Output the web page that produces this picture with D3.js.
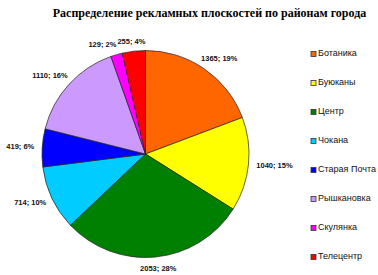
<!DOCTYPE html>
<html>
<head>
<meta charset="utf-8">
<script src="https://cdn.jsdelivr.net/npm/d3@7"></script>
<style>
  body { margin: 0; background: #fff; }
  #chart { width: 378px; height: 275px; }
</style>
</head>
<body>
<div id="chart"></div>
<script>
'use strict'

// districts, values and shown percents
const districts = ["Ботаника", "Буюканы", "Центр", "Чокана", "Старая Почта", "Рышкановка", "Скулянка", "Телецентр"]
const counts = [1365, 1040, 2053, 714, 419, 1110, 129, 255]
const percents = [19, 15, 28, 10, 6, 16, 2, 4]
const colors = ["#FF6600", "#FFFF00", "#008000", "#00CCFF", "#0000FF", "#CC99FF", "#FF00FF", "#FF0000"]

const chartTitle = "Распределение рекламных плоскостей по районам города"

////////////////////////////////////
//////////// svg setup /////////////
////////////////////////////////////

const svgWidth = 378
const svgHeight = 275

const svg = d3.select('#chart')
    .append('svg')
    .attr('width', svgWidth)
    .attr('height', svgHeight)

const cx = 145.5, cy = 154, radius = 103.5

const data = districts.map((d, i) => ({ name: d, value: counts[i], pct: percents[i], color: colors[i] }))

const color = d3.scaleOrdinal().domain(districts).range(colors)

svg.append('text')
    .attr('x', 209.5)
    .attr('y', 17)
    .attr('text-anchor', 'middle')
    .style('font-family', '"Liberation Serif", "Times New Roman", serif')
    .style('font-weight', '700')
    .style('font-size', '12px')
    .text(chartTitle)

////////////////////////////////////
//////////// pie ///////////////////
////////////////////////////////////

const pie = d3.pie().sort(null).value(d => d.value)
const arc = d3.arc().innerRadius(0).outerRadius(radius)
const arcs = pie(data)

const g = svg.append('g').attr('transform', `translate(${cx},${cy})`)

g.selectAll('.slice')
    .data(arcs)
    .join('path')
    .attr('class', 'slice')
    .attr('d', arc)
    .attr('fill', d => color(d.data.name))
    .attr('stroke', '#222')
    .attr('stroke-width', 0.7)

// data labels, outside end
const labelFont = '700 7.5px "Liberation Sans", Arial, sans-serif'
const ctx = document.createElement('canvas').getContext('2d')
ctx.font = labelFont

const labels = arcs.map(d => {
    const a = (d.startAngle + d.endAngle) / 2
    const s = Math.sin(a), c = -Math.cos(a)
    const txt = d.data.value + '; ' + d.data.pct + '%'
    const w = ctx.measureText(txt).width
    const h = 8
    const px = (radius + 8) * s, py = (radius + 8) * c
    return { txt, w, x: px + w / 2 * s, y: py + h / 2 * c }
})

// push apart overlapping labels near the top
for (let k = labels.length - 1; k > 0; k--) {
    const a = labels[k - 1], b = labels[k]
    if (Math.abs(a.y - b.y) < 8 && a.x + a.w / 2 > b.x - b.w / 2 && a.x < b.x) {
        a.x = b.x - b.w / 2 - a.w / 2 - 1
        a.y += 2
        b.y += 3
    }
}

g.selectAll('.lbl')
    .data(labels)
    .join('text')
    .attr('class', 'lbl')
    .attr('x', d => d.x)
    .attr('y', d => d.y)
    .attr('text-anchor', 'middle')
    .attr('dominant-baseline', 'middle')
    .style('font', labelFont)
    .attr('fill', '#111')
    .text(d => d.txt)

////////////////////////////////////
//////////// legend ////////////////
////////////////////////////////////

const ly = d3.scalePoint().domain(districts).range([54, 257])

const legend = svg.selectAll('.leg')
    .data(districts)
    .join('g')
    .attr('class', 'leg')
    .attr('transform', d => `translate(311,${ly(d)})`)

legend.append('rect')
    .attr('x', 0)
    .attr('y', -2.5)
    .attr('width', 5)
    .attr('height', 5)
    .attr('fill', d => color(d))
    .attr('stroke', '#333')
    .attr('stroke-width', 0.8)

legend.append('text')
    .attr('x', 7)
    .attr('y', 0)
    .attr('dominant-baseline', 'middle')
    .style('font-family', '"Liberation Sans", Arial, sans-serif')
    .style('font-size', '9px')
    .attr('fill', '#111')
    .text(d => d)
</script>
</body>
</html>
